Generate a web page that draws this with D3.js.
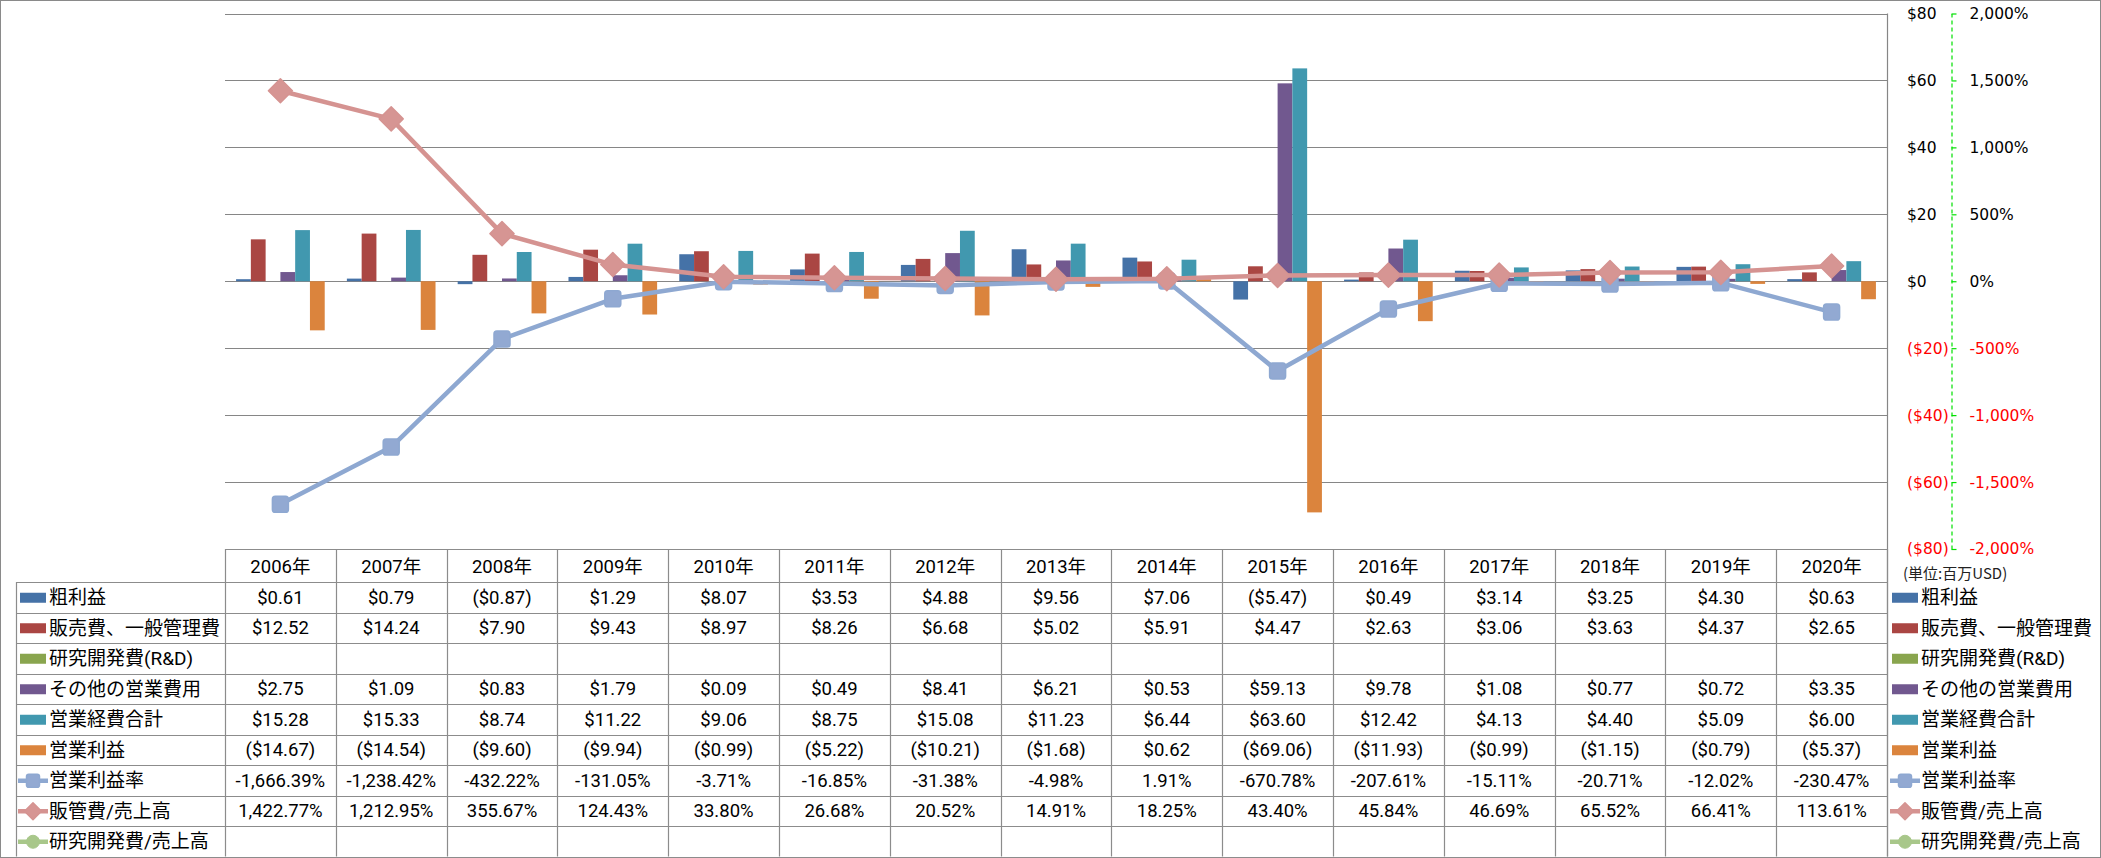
<!DOCTYPE html>
<html>
<head>
<meta charset="utf-8">
<script src="https://cdn.jsdelivr.net/npm/d3@7"></script>
<style>
  html, body { margin: 0; padding: 0; background: #fff; }
  svg { display: block; }
</style>
</head>
<body>
<svg id="chart" width="2101" height="858"></svg>
<script>
// ---------------- DATA ----------------
const years = ["2006年","2007年","2008年","2009年","2010年","2011年","2012年","2013年","2014年","2015年","2016年","2017年","2018年","2019年","2020年"];

const grossProfit = [0.61, 0.79, -0.87, 1.29, 8.07, 3.53, 4.88, 9.56, 7.06, -5.47, 0.49, 3.14, 3.25, 4.30, 0.63];
const sgaExpense  = [12.52, 14.24, 7.90, 9.43, 8.97, 8.26, 6.68, 5.02, 5.91, 4.47, 2.63, 3.06, 3.63, 4.37, 2.65];
const rndExpense  = [null, null, null, null, null, null, null, null, null, null, null, null, null, null, null];
const otherOpex   = [2.75, 1.09, 0.83, 1.79, 0.09, 0.49, 8.41, 6.21, 0.53, 59.13, 9.78, 1.08, 0.77, 0.72, 3.35];
const totalOpex   = [15.28, 15.33, 8.74, 11.22, 9.06, 8.75, 15.08, 11.23, 6.44, 63.60, 12.42, 4.13, 4.40, 5.09, 6.00];
const opIncome    = [-14.67, -14.54, -9.60, -9.94, -0.99, -5.22, -10.21, -1.68, 0.62, -69.06, -11.93, -0.99, -1.15, -0.79, -5.37];

const opMargin    = [-1666.39, -1238.42, -432.22, -131.05, -3.71, -16.85, -31.38, -4.98, 1.91, -670.78, -207.61, -15.11, -20.71, -12.02, -230.47];
const sgaRatio    = [1422.77, 1212.95, 355.67, 124.43, 33.80, 26.68, 20.52, 14.91, 18.25, 43.40, 45.84, 46.69, 65.52, 66.41, 113.61];
const rndRatio    = [null, null, null, null, null, null, null, null, null, null, null, null, null, null, null];

const barSeriesNames  = ["粗利益", "販売費、一般管理費", "研究開発費(R&D)", "その他の営業費用", "営業経費合計", "営業利益"];
const lineSeriesNames = ["営業利益率", "販管費/売上高", "研究開発費/売上高"];

const leftTicks  = [-80, -60, -40, -20, 0, 20, 40, 60, 80];
const rightTicks = [-2000, -1500, -1000, -500, 0, 500, 1000, 1500, 2000];
const unitLabel = "(単位:百万USD)";

// ---------------- STYLE / LAYOUT ----------------
const barValues  = [grossProfit, sgaExpense, rndExpense, otherOpex, totalOpex, opIncome];
const lineValues = [opMargin, sgaRatio, rndRatio];
const barColors  = ["#4572A7", "#AA4643", "#89A54E", "#71588F", "#4198AF", "#DB843D"];
const lineColors = ["#8EA8D1", "#D59391", "#A8C78A"];
const markerKinds = ["square", "diamond", "circle"];

const W = 2101, H = 858;
const plotLeft = 225, plotRight = 1887;
const yTop = 13.5, yBottom = 549;
const rowTop = 582, rowH = 30.5;
const labelLeft = 16;

const latinFont = "Roboto, 'Open Sans', sans-serif";
const cjkFont = "Roboto, 'Noto Sans CJK JP', sans-serif";
const axisFont = "'DejaVu Sans', Verdana, sans-serif";

const svg = d3.select("#chart");

// outer border
svg.append("rect").attr("x", 0.5).attr("y", 0.5).attr("width", W - 1).attr("height", H - 1)
  .attr("fill", "#fff").attr("stroke", "#8a8a8a").attr("stroke-width", 1);

// scales
const x0 = d3.scaleBand().domain(years).range([plotLeft, plotRight]).paddingInner(0).paddingOuter(0);
const x1 = d3.scaleBand().domain(d3.range(barSeriesNames.length)).range([0, x0.bandwidth()])
  .paddingInner(0).paddingOuter(0.75);
const yL = d3.scaleLinear().domain([-80, 80]).range([yBottom, yTop]);
const yR = d3.scaleLinear().domain([-2000, 2000]).range([yBottom, yTop]);

// gridlines
svg.append("g").selectAll("line").data(leftTicks).join("line")
  .attr("x1", plotLeft).attr("x2", plotRight)
  .attr("y1", d => Math.round(yL(d)) + 0.5).attr("y2", d => Math.round(yL(d)) + 0.5)
  .attr("stroke", "#868686").attr("stroke-width", 1.2);

// bars
const barG = svg.append("g");
barValues.forEach((vals, si) => {
  barG.append("g").selectAll("rect")
    .data(vals.map((v, i) => ({ v, year: years[i] })).filter(d => d.v != null))
    .join("rect")
    .attr("x", d => x0(d.year) + x1(si))
    .attr("width", x1.bandwidth())
    .attr("y", d => Math.min(yL(d.v), yL(0)))
    .attr("height", d => Math.abs(yL(d.v) - yL(0)))
    .attr("fill", barColors[si]);
});

// marker helper
function drawMarker(g, kind, cx, cy, size, color) {
  if (kind === "square") {
    g.append("rect").attr("x", cx - size / 2).attr("y", cy - size / 2)
      .attr("width", size).attr("height", size).attr("rx", size * 0.18)
      .attr("fill", "#92A9D2").attr("stroke", color).attr("stroke-width", 1.5);
  } else if (kind === "diamond") {
    const h = size / 2;
    g.append("path").attr("d", `M${cx},${cy - h}L${cx + h},${cy}L${cx},${cy + h}L${cx - h},${cy}Z`)
      .attr("fill", "#D69593").attr("stroke", color).attr("stroke-width", 1.5).attr("stroke-linejoin", "round");
  } else {
    g.append("circle").attr("cx", cx).attr("cy", cy).attr("r", size / 2)
      .attr("fill", color).attr("stroke", color);
  }
}

// lines (secondary axis)
const lineGen = d3.line().defined(d => d.v != null)
  .x(d => x0(d.year) + x0.bandwidth() / 2).y(d => yR(d.v));
lineValues.forEach((vals, si) => {
  const data = vals.map((v, i) => ({ v, year: years[i] }));
  const g = svg.append("g");
  g.append("path").datum(data).attr("d", lineGen)
    .attr("fill", "none").attr("stroke", lineColors[si]).attr("stroke-width", 4.5)
    .attr("stroke-linejoin", "round").attr("stroke-linecap", "round");
  data.filter(d => d.v != null).forEach(d => {
    drawMarker(g, markerKinds[si], x0(d.year) + x0.bandwidth() / 2, yR(d.v),
      markerKinds[si] === "diamond" ? 24 : 16, lineColors[si]);
  });
});

// right edge of plot / table
svg.append("line").attr("x1", plotRight + 0.5).attr("x2", plotRight + 0.5)
  .attr("y1", yTop).attr("y2", rowTop + rowH * 9)
  .attr("stroke", "#868686").attr("stroke-width", 1.2);

// primary axis labels ($)
const fmtDollarAxis = v => v < 0 ? `($${Math.abs(v)})` : `$${v}`;
const axL = svg.append("g").attr("transform", "translate(1904,0)")
  .call(d3.axisRight(yL).tickValues(leftTicks).tickFormat(fmtDollarAxis).tickSize(0).tickPadding(3));
axL.select(".domain").remove();
axL.selectAll("text").attr("font-family", axisFont).attr("font-size", 15.5)
  .attr("fill", d => d < 0 ? "#FF0000" : "#000");

// secondary axis (%)
const fmtPctAxis = v => (v < 0 ? "-" : "") + d3.format(",")(Math.abs(v)) + "%";
const axR = svg.append("g").attr("transform", "translate(1951.5,0)")
  .call(d3.axisRight(yR).tickValues(rightTicks).tickFormat(fmtPctAxis).tickSize(5).tickSizeOuter(0).tickPadding(13));
axR.select(".domain").attr("stroke", "#00E000").attr("stroke-dasharray", "4,3").attr("stroke-width", 1.2);
axR.selectAll(".tick line").attr("stroke", "#00E000").attr("stroke-width", 1.2);
axR.selectAll("text").attr("font-family", axisFont).attr("font-size", 15.5)
  .attr("fill", d => d < 0 ? "#FF0000" : "#000");

// unit label
svg.append("text").attr("x", 1903).attr("y", 572).attr("dominant-baseline", "central")
  .attr("font-family", "'Noto Sans CJK JP', sans-serif").attr("font-size", 15).attr("fill", "#222")
  .text(unitLabel);

// ---------------- DATA TABLE ----------------
const tableG = svg.append("g");
const nRows = barSeriesNames.length + lineSeriesNames.length;
const tableBottom = rowTop + rowH * nRows;
const gridCol = "#8c8c8c";

// header top line
tableG.append("line").attr("x1", plotLeft).attr("x2", plotRight)
  .attr("y1", yBottom + 0.5).attr("y2", yBottom + 0.5).attr("stroke", gridCol).attr("stroke-width", 1.2);
// row lines
tableG.selectAll("line.row").data(d3.range(nRows + 1)).join("line").attr("class", "row")
  .attr("x1", labelLeft).attr("x2", plotRight)
  .attr("y1", i => Math.round(rowTop + i * rowH) + 0.5).attr("y2", i => Math.round(rowTop + i * rowH) + 0.5)
  .attr("stroke", gridCol).attr("stroke-width", 1.2);
// left label border
tableG.append("line").attr("x1", labelLeft + 0.5).attr("x2", labelLeft + 0.5)
  .attr("y1", rowTop).attr("y2", tableBottom).attr("stroke", gridCol).attr("stroke-width", 1.2);
// column lines
tableG.selectAll("line.col").data(years.concat(["end"])).join("line").attr("class", "col")
  .attr("x1", (d, i) => Math.round(plotLeft + i * x0.step()) + 0.5)
  .attr("x2", (d, i) => Math.round(plotLeft + i * x0.step()) + 0.5)
  .attr("y1", yBottom).attr("y2", tableBottom).attr("stroke", gridCol).attr("stroke-width", 1.2);

// headers
tableG.selectAll("text.hdr").data(years).join("text").attr("class", "hdr")
  .attr("x", d => x0(d) + x0.bandwidth() / 2).attr("y", (yBottom + rowTop) / 2 + 1)
  .attr("text-anchor", "middle").attr("dominant-baseline", "central")
  .attr("font-family", cjkFont).attr("font-size", 18.5).attr("fill", "#000").text(d => d);

const fmtDollar = v => v == null ? "" : (v < 0 ? `($${Math.abs(v).toFixed(2)})` : `$${v.toFixed(2)}`);
const fmtPct = v => v == null ? "" : (v < 0 ? "-" : "") + d3.format(",.2f")(Math.abs(v)) + "%";

const allRows = barSeriesNames.map((n, i) => ({ name: n, vals: barValues[i], kind: "bar", color: barColors[i], fmt: fmtDollar }))
  .concat(lineSeriesNames.map((n, i) => ({ name: n, vals: lineValues[i], kind: markerKinds[i], color: lineColors[i], fmt: fmtPct })));

function legendKey(g, row, x, cy) {
  if (row.kind === "bar") {
    g.append("rect").attr("x", x).attr("y", cy - 5).attr("width", 26).attr("height", 10).attr("fill", row.color);
  } else {
    g.append("line").attr("x1", x - 2).attr("x2", x + 28).attr("y1", cy).attr("y2", cy)
      .attr("stroke", row.color).attr("stroke-width", 4.5);
    drawMarker(g, row.kind, x + 13, cy, row.kind === "diamond" ? 17 : 13, row.color);
  }
}

allRows.forEach((row, ri) => {
  const cy = rowTop + ri * rowH + rowH / 2 + 0.5;
  legendKey(tableG, row, 20, cy);
  tableG.append("text").attr("x", 49).attr("y", cy).attr("dominant-baseline", "central")
    .attr("font-family", cjkFont).attr("font-size", 19).attr("fill", "#000").text(row.name);
  tableG.append("g").selectAll("text").data(row.vals.map((v, i) => ({ v, year: years[i] }))).join("text")
    .attr("x", d => x0(d.year) + x0.bandwidth() / 2).attr("y", cy)
    .attr("text-anchor", "middle").attr("dominant-baseline", "central")
    .attr("font-family", latinFont).attr("font-size", 18.5).attr("fill", "#000")
    .text(d => row.fmt(d.v));
  // right legend
  legendKey(tableG, row, 1892, cy);
  tableG.append("text").attr("x", 1921).attr("y", cy).attr("dominant-baseline", "central")
    .attr("font-family", cjkFont).attr("font-size", 19).attr("fill", "#000").text(row.name);
});
</script>
</body>
</html>
